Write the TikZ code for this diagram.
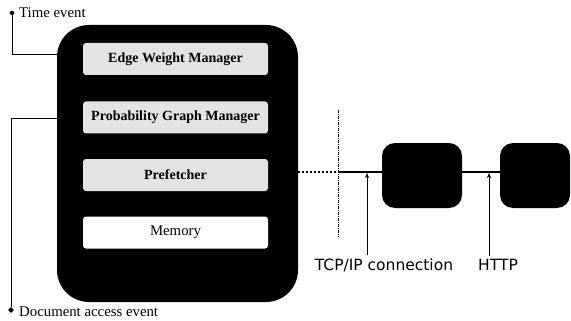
\documentclass[tikz,border=0pt]{standalone}
\usepackage{fontspec}
\setmainfont{Liberation Serif}
\newfontfamily\protofont{DejaVu Sans}
\usetikzlibrary{arrows.meta,shapes.geometric}

\begin{document}
\begin{tikzpicture}[x=1pt,y=-1pt,
  module/.style={fill=gray!22, rounded corners=3pt, minimum width=185pt, minimum height=32pt,
    font=\fontsize{14}{16}\selectfont\bfseries},
  host/.style={fill=black, rounded corners=13pt, minimum height=65pt},
  event/.style={anchor=west, inner sep=0pt, font=\fontsize{14.8}{17}\selectfont},
  proto/.style={font=\protofont\fontsize{15.5}{18}\selectfont},
  wire/.style={line width=0.8pt},
  pointer/.style={-{Stealth[length=5pt,width=4pt]}, line width=0.6pt}]
  \useasboundingbox (0,0) rectangle (571,321);

  % client side
  \node[fill=black, rounded corners=32pt, minimum width=241pt, minimum height=277pt] (client) at (177.5,163.5) {};
  \node[module] (ewm) at (175.5,59) {Edge Weight Manager};
  \node[module] (pgm) at (175.5,117.5) {Probability Graph Manager};
  \node[module] (pre) at (175.5,175) {Prefetcher};
  \node[module, fill=white, font=\fontsize{14.8}{17}\selectfont] (mem) at (175.5,232.5) {Memory};

  % events
  \node[circle, fill, inner sep=0pt, minimum size=4.5pt] (tdot) at (12,13) {};
  \node[event] (tlabel) at (19,13) {Time event};
  \coordinate (tin) at (57,54);
  \draw[wire] (tdot) |- (tin);
  \node[diamond, fill, inner sep=0pt, minimum size=6pt] (ddot) at (11,310) {};
  \node[event] (dlabel) at (19,312) {Document access event};
  \coordinate (din) at (57,118);
  \draw[wire] (din) -| (ddot);

  % network side
  \node[host, minimum width=80pt] (proxy) at (422,175.5) {};
  \node[host, minimum width=70pt] (server) at (535,175.5) {};
  \coordinate (out) at (298,172);
  \coordinate (tap) at (338,172);
  \coordinate (cuttop) at (338,110);
  \coordinate (cutbot) at (338,237);
  \draw[line width=2pt, dotted] (out) -- (tap);
  \draw[line width=1.2pt] (tap) -- (proxy.west |- tap);
  \draw[line width=1.2pt] (proxy.east |- tap) -- (server.west |- tap);
  \draw[line width=0.5pt, dash pattern=on 3pt off 1pt on 1pt off 1pt] (cuttop) -- (cutbot);

  \node[proto] (tcp) at (384,265) {TCP/IP connection};
  \node[proto] (http) at (498,265) {HTTP};
  \coordinate (tcpin) at (367,173);
  \coordinate (httpin) at (489,173);
  \draw[pointer] (tcp.north -| tcpin) -- (tcpin);
  \draw[pointer] (http.north -| httpin) -- (httpin);
\end{tikzpicture}
\end{document}
